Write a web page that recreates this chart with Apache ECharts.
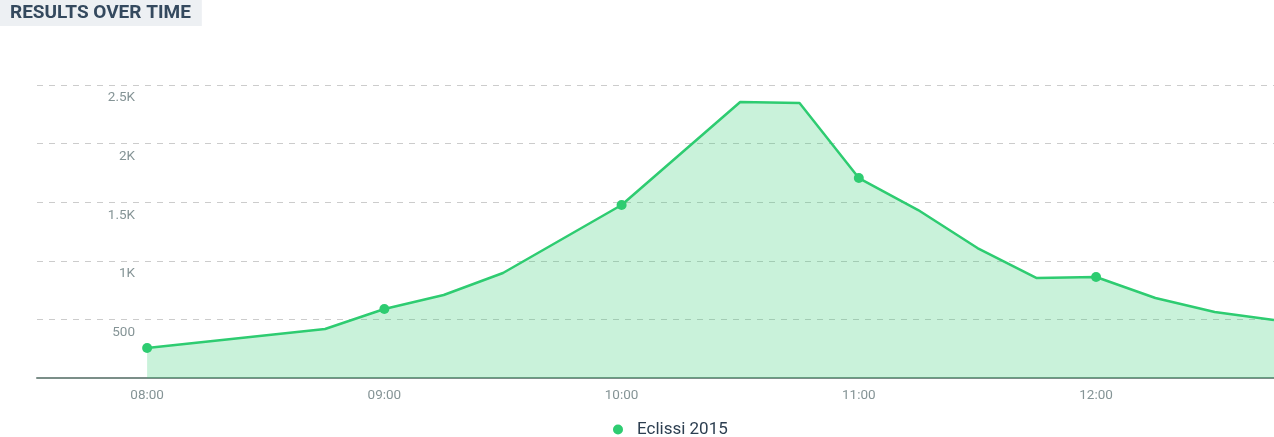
<!DOCTYPE html>
<html>
<head>
<meta charset="utf-8">
<title>Results over time</title>
<script src="https://cdn.jsdelivr.net/npm/echarts@6/dist/echarts.min.js"></script>
<style>
  html, body { margin: 0; padding: 0; background: #fff; }
  #chart { width: 1274px; height: 437px; }
</style>
</head>
<body>
<div id="chart"></div>
<script>
// dati (orari e risultati)
var times = ['08:00', '08:45', '09:00', '09:15', '09:30', '10:00', '10:30', '10:45',
             '11:00', '11:15', '11:30', '11:45', '12:00', '12:15', '12:30', '12:45'];
var results = [256, 418, 589, 708, 896, 1476, 2355, 2347,
               1706, 1433, 1109, 853, 862, 683, 563, 495];
var seriesName = 'Eclissi 2015';
var yTicks = [0, 500, 1000, 1500, 2000, 2500];

function toDate(hm) {
    var p = hm.split(':');
    return new Date(2015, 2, 20, +p[0], +p[1]);
}

var points = times.map(function (t, i) {
    return [toDate(t), results[i]];
});

var myChart = echarts.init(document.getElementById('chart'));
var option = {
    animation: false,
    title: {
        text: 'RESULTS OVER TIME',
        left: 0,
        top: 0,
        padding: [4, 11, 3, 10],
        backgroundColor: '#edf0f3',
        textStyle: {
            fontFamily: "'Liberation Sans Narrow', Roboto, sans-serif",
            fontWeight: 'bold',
            fontSize: 19,
            color: '#34495e'
        }
    },
    legend: {
        data: [seriesName],
        icon: 'circle',
        itemWidth: 28,
        itemHeight: 10,
        left: 608,
        top: 416,
        textStyle: {
            fontFamily: 'Roboto, sans-serif',
            fontSize: 17,
            color: '#2c3e50'
        }
    },
    grid: {
        left: 37,
        right: 0,
        top: 85,
        bottom: 59
    },
    xAxis: {
        type: 'time',
        min: toDate('07:32').getTime() + 9000,
        max: toDate('12:45').getTime(),
        minInterval: 3600 * 1000,
        maxInterval: 3600 * 1000,
        axisLine: { lineStyle: { color: '#7b8e88', width: 2 } },
        axisTick: { show: false },
        splitLine: { show: false },
        axisLabel: {
            color: '#859496',
            fontFamily: 'Roboto, sans-serif',
            fontSize: 13.5,
            margin: 11,
            showMinLabel: false,
            showMaxLabel: false,
            formatter: '{HH}:{mm}'
        }
    },
    yAxis: {
        type: 'value',
        min: yTicks[0],
        max: yTicks[yTicks.length - 1],
        interval: 500,
        axisLine: { show: false },
        axisTick: { show: false },
        splitLine: { lineStyle: { color: '#cccccc', type: [6, 6] } },
        axisLabel: {
            inside: true,
            margin: 98,
            align: 'right',
            verticalAlign: 'top',
            padding: [6, 0, 0, 0],
            showMinLabel: false,
            color: '#859496',
            fontFamily: 'Roboto, sans-serif',
            fontSize: 13.5,
            formatter: function (v) {
                return v >= 1000 ? (v / 1000) + 'K' : v;
            }
        }
    },
    series: [{
        name: seriesName,
        type: 'line',
        data: points,
        showAllSymbol: true,
        symbol: 'circle',
        symbolSize: function (val) {
            return new Date(val[0]).getMinutes() === 0 ? 10 : 0;
        },
        itemStyle: { color: '#2ecc71' },
        lineStyle: { color: '#2ecc71', width: 2.5 },
        areaStyle: { color: 'rgba(46, 204, 113, 0.26)', opacity: 1 }
    }]
};
myChart.setOption(option);
</script>
</body>
</html>
